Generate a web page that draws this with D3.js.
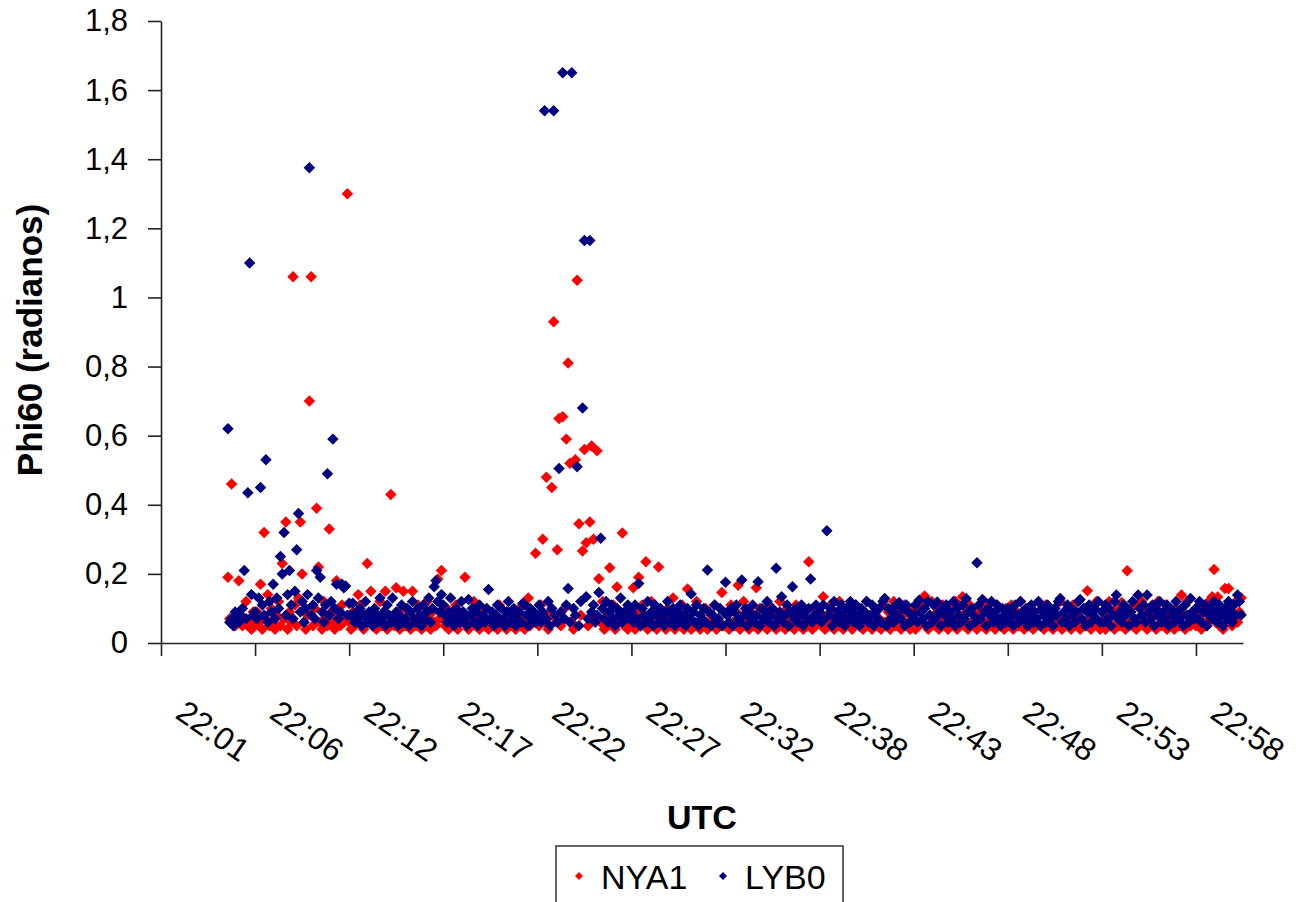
<!DOCTYPE html>
<html>
<head>
<meta charset="utf-8">
<script src="https://cdn.jsdelivr.net/npm/d3@7"></script>
<style>
  body { margin: 0; background: #fff; }
  text { font-family: "Liberation Sans", Arial, sans-serif; fill: #000; }
</style>
</head>
<body>
<div id="chart"></div>
<script>
// SCATTER (Phi60 vs UTC)

// Data

var xLabels = ["22:01", "22:06", "22:12", "22:17", "22:22", "22:27",
               "22:32", "22:38", "22:43", "22:48", "22:53", "22:58"];
var yTicks = [0, 0.2, 0.4, 0.6, 0.8, 1, 1.2, 1.4, 1.6, 1.8];
var samplesPerLabel = 52;      // samples between two time labels
var axisSamples = 598;         // samples covered by the axis
var firstSample = 37;          // first sample with a value

var nya1 = [
  // 22:01
  0.19, 0.07, 0.46, 0.06, 0.05, 0.08, 0.18, 0.06, 0.05, 0.07, 0.12, 0.05, 0.06, 0.04, 0.09,
  // 22:06
  0.05, 0.09, 0.06, 0.17, 0.04, 0.32, 0.07, 0.14, 0.05, 0.10, 0.06, 0.04, 0.08,
  0.12, 0.05, 0.23, 0.07, 0.35, 0.04, 0.09, 0.06, 1.06, 0.11, 0.05, 0.13, 0.35,
  0.20, 0.06, 0.04, 0.08, 0.70, 1.06, 0.05, 0.10, 0.39, 0.22, 0.06, 0.04, 0.12,
  0.07, 0.05, 0.33, 0.09, 0.06, 0.04, 0.18, 0.08, 0.05, 0.11, 0.06, 0.07, 1.30,
  // 22:12
  0.06, 0.04, 0.09, 0.05, 0.07, 0.14, 0.11, 0.05, 0.04, 0.08, 0.23, 0.06, 0.15,
  0.05, 0.09, 0.04, 0.07, 0.12, 0.05, 0.06, 0.15, 0.04, 0.08, 0.43, 0.06, 0.05,
  0.16, 0.07, 0.04, 0.10, 0.15, 0.05, 0.06, 0.09, 0.04, 0.15, 0.07, 0.05, 0.11,
  0.06, 0.04, 0.08, 0.05, 0.12, 0.07, 0.04, 0.09, 0.06, 0.05, 0.185, 0.07, 0.21,
  // 22:17
  0.07, 0.05, 0.10, 0.04, 0.06, 0.08, 0.05, 0.11, 0.04, 0.07, 0.06, 0.09, 0.19,
  0.05, 0.04, 0.08, 0.06, 0.12, 0.05, 0.07, 0.04, 0.09, 0.06, 0.05, 0.10, 0.04,
  0.07, 0.06, 0.05, 0.08, 0.04, 0.11, 0.06, 0.05, 0.07, 0.04, 0.09, 0.06, 0.05,
  0.08, 0.04, 0.06, 0.10, 0.05, 0.07, 0.04, 0.06, 0.13, 0.05, 0.09, 0.07, 0.26,
  // 22:22
  0.08, 0.05, 0.11, 0.30, 0.06, 0.48, 0.04, 0.09, 0.45, 0.93, 0.07, 0.27, 0.65,
  0.05, 0.655, 0.10, 0.59, 0.81, 0.52, 0.06, 0.04, 0.53, 1.05, 0.345, 0.08, 0.266,
  0.56, 0.29, 0.05, 0.35, 0.57, 0.30, 0.07, 0.556, 0.186, 0.06, 0.12, 0.04, 0.09,
  0.05, 0.218, 0.07, 0.11, 0.04, 0.162, 0.06, 0.09, 0.318, 0.05, 0.08, 0.04, 0.07,
  // 22:27
  0.06, 0.16, 0.04, 0.09, 0.19, 0.05, 0.11, 0.07, 0.235, 0.04, 0.06, 0.12, 0.05,
  0.08, 0.04, 0.22, 0.06, 0.09, 0.05, 0.04, 0.10, 0.07, 0.05, 0.13, 0.04, 0.06,
  0.08, 0.05, 0.11, 0.04, 0.07, 0.156, 0.06, 0.04, 0.09, 0.05, 0.12, 0.06, 0.04,
  0.07, 0.05, 0.10, 0.04, 0.06, 0.08, 0.05, 0.11, 0.04, 0.07, 0.06, 0.146, 0.05,
  // 22:32
  0.05, 0.08, 0.04, 0.11, 0.06, 0.05, 0.09, 0.167, 0.04, 0.07, 0.12, 0.05, 0.06,
  0.04, 0.09, 0.07, 0.05, 0.16, 0.04, 0.10, 0.06, 0.05, 0.08, 0.04, 0.11, 0.07,
  0.05, 0.09, 0.04, 0.06, 0.12, 0.05, 0.07, 0.04, 0.10, 0.06, 0.05, 0.08, 0.04,
  0.11, 0.06, 0.05, 0.09, 0.04, 0.07, 0.05, 0.235, 0.06, 0.04, 0.10, 0.05, 0.08,
  // 22:38
  0.07, 0.05, 0.134, 0.04, 0.08, 0.06, 0.11, 0.05, 0.04, 0.09, 0.06, 0.12, 0.05,
  0.04, 0.08, 0.06, 0.10, 0.05, 0.04, 0.07, 0.11, 0.06, 0.05, 0.09, 0.04, 0.07,
  0.12, 0.05, 0.06, 0.04, 0.08, 0.10, 0.05, 0.07, 0.04, 0.11, 0.06, 0.05, 0.09,
  0.04, 0.07, 0.12, 0.05, 0.06, 0.09, 0.04, 0.08, 0.11, 0.05, 0.06, 0.04, 0.10,
  // 22:43
  0.06, 0.04, 0.09, 0.05, 0.11, 0.07, 0.136, 0.05, 0.04, 0.08, 0.12, 0.06, 0.05,
  0.09, 0.04, 0.07, 0.11, 0.05, 0.06, 0.04, 0.10, 0.08, 0.05, 0.12, 0.04, 0.07,
  0.06, 0.134, 0.05, 0.09, 0.04, 0.11, 0.06, 0.05, 0.08, 0.04, 0.10, 0.07, 0.05,
  0.12, 0.04, 0.06, 0.09, 0.05, 0.08, 0.04, 0.11, 0.06, 0.05, 0.07, 0.04, 0.10,
  // 22:48
  0.05, 0.08, 0.11, 0.04, 0.06, 0.09, 0.05, 0.12, 0.07, 0.04, 0.06, 0.10, 0.05,
  0.08, 0.04, 0.07, 0.06, 0.117, 0.05, 0.09, 0.04, 0.11, 0.06, 0.05, 0.08, 0.04,
  0.10, 0.06, 0.05, 0.12, 0.04, 0.07, 0.09, 0.05, 0.06, 0.04, 0.11, 0.07, 0.05,
  0.08, 0.04, 0.06, 0.10, 0.05, 0.151, 0.07, 0.04, 0.09, 0.06, 0.12, 0.05, 0.04,
  // 22:53
  0.06, 0.09, 0.04, 0.07, 0.12, 0.05, 0.08, 0.04, 0.10, 0.06, 0.05, 0.117, 0.07,
  0.04, 0.209, 0.06, 0.09, 0.05, 0.11, 0.04, 0.07, 0.06, 0.12, 0.05, 0.08, 0.04,
  0.10, 0.06, 0.05, 0.09, 0.04, 0.12, 0.07, 0.05, 0.06, 0.11, 0.04, 0.08, 0.05,
  0.07, 0.04, 0.10, 0.06, 0.05, 0.139, 0.08, 0.04, 0.12, 0.06, 0.05, 0.09, 0.07,
  // 22:58
  0.05, 0.08, 0.11, 0.04, 0.06, 0.09, 0.05, 0.12, 0.07, 0.134, 0.213, 0.06, 0.133,
  0.05, 0.09, 0.04, 0.158, 0.07, 0.158, 0.10, 0.05, 0.08, 0.12, 0.06, 0.09, 0.13
];

var lyb0 = [
  // 22:01
  0.62, 0.06, 0.07, 0.05, 0.09, 0.07, 0.06, 0.08, 0.10, 0.21, 0.07, 0.435, 1.10, 0.14, 0.08,
  // 22:06
  0.09, 0.07, 0.13, 0.45, 0.11, 0.08, 0.53, 0.06, 0.12, 0.09, 0.17, 0.07, 0.13,
  0.10, 0.25, 0.20, 0.32, 0.08, 0.14, 0.21, 0.11, 0.07, 0.15, 0.27, 0.375, 0.09,
  0.12, 0.06, 0.10, 0.14, 1.375, 0.08, 0.11, 0.07, 0.21, 0.13, 0.19, 0.09, 0.06,
  0.11, 0.49, 0.08, 0.12, 0.59, 0.10, 0.17, 0.07, 0.09, 0.17, 0.16, 0.165, 0.08,
  // 22:12
  0.115, 0.08, 0.115, 0.06, 0.09, 0.07, 0.10, 0.05, 0.08, 0.12, 0.06, 0.09, 0.07,
  0.05, 0.10, 0.08, 0.06, 0.13, 0.07, 0.09, 0.05, 0.11, 0.08, 0.06, 0.13, 0.07,
  0.09, 0.05, 0.08, 0.11, 0.06, 0.07, 0.10, 0.05, 0.09, 0.12, 0.07, 0.06, 0.10,
  0.08, 0.05, 0.11, 0.07, 0.09, 0.13, 0.06, 0.10, 0.163, 0.18, 0.12, 0.09, 0.14,
  // 22:17
  0.11, 0.08, 0.06, 0.09, 0.13, 0.07, 0.05, 0.10, 0.08, 0.06, 0.12, 0.09, 0.07,
  0.05, 0.126, 0.08, 0.10, 0.06, 0.09, 0.05, 0.11, 0.07, 0.08, 0.06, 0.10, 0.155,
  0.07, 0.09, 0.05, 0.08, 0.11, 0.06, 0.10, 0.07, 0.05, 0.09, 0.12, 0.06, 0.08,
  0.10, 0.05, 0.07, 0.09, 0.06, 0.115, 0.11, 0.08, 0.05, 0.10, 0.07, 0.09, 0.06,
  // 22:22
  0.08, 0.11, 0.06, 0.09, 1.54, 0.07, 0.12, 0.05, 0.10, 1.54, 0.08, 0.06, 0.505,
  0.09, 1.65, 0.07, 0.11, 0.158, 0.06, 1.65, 0.10, 0.08, 0.51, 0.05, 0.12, 0.68,
  1.165, 0.134, 0.07, 1.165, 0.09, 0.11, 0.06, 0.08, 0.146, 0.303, 0.10, 0.07, 0.12,
  0.06, 0.09, 0.11, 0.07, 0.05, 0.10, 0.08, 0.13, 0.06, 0.09, 0.07, 0.11, 0.08,
  // 22:27
  0.09, 0.06, 0.11, 0.07, 0.172, 0.05, 0.10, 0.08, 0.06, 0.12, 0.07, 0.09, 0.05,
  0.11, 0.08, 0.06, 0.10, 0.07, 0.05, 0.09, 0.12, 0.06, 0.08, 0.10, 0.05, 0.07,
  0.09, 0.11, 0.06, 0.08, 0.05, 0.10, 0.07, 0.142, 0.09, 0.06, 0.11, 0.05, 0.08,
  0.07, 0.10, 0.06, 0.211, 0.09, 0.05, 0.08, 0.11, 0.06, 0.07, 0.10, 0.05, 0.09,
  // 22:32
  0.176, 0.08, 0.06, 0.10, 0.05, 0.09, 0.11, 0.07, 0.06, 0.182, 0.08, 0.10, 0.05,
  0.09, 0.07, 0.11, 0.06, 0.08, 0.177, 0.05, 0.10, 0.07, 0.09, 0.12, 0.06, 0.08,
  0.10, 0.05, 0.216, 0.07, 0.09, 0.134, 0.06, 0.08, 0.11, 0.05, 0.09, 0.163, 0.07,
  0.10, 0.06, 0.08, 0.11, 0.05, 0.09, 0.07, 0.10, 0.185, 0.06, 0.08, 0.11, 0.07,
  // 22:38
  0.09, 0.06, 0.11, 0.07, 0.325, 0.08, 0.10, 0.05, 0.12, 0.07, 0.09, 0.06, 0.11,
  0.08, 0.05, 0.10, 0.07, 0.12, 0.09, 0.06, 0.11, 0.08, 0.05, 0.10, 0.07, 0.09,
  0.12, 0.06, 0.08, 0.11, 0.05, 0.09, 0.07, 0.10, 0.06, 0.12, 0.129, 0.05, 0.10,
  0.07, 0.09, 0.06, 0.11, 0.08, 0.117, 0.07, 0.10, 0.05, 0.11, 0.09, 0.06, 0.08,
  // 22:43
  0.08, 0.11, 0.06, 0.124, 0.09, 0.07, 0.10, 0.05, 0.12, 0.08, 0.06, 0.11, 0.07,
  0.119, 0.09, 0.05, 0.10, 0.08, 0.11, 0.06, 0.09, 0.07, 0.12, 0.05, 0.10, 0.08,
  0.06, 0.11, 0.07, 0.129, 0.09, 0.05, 0.10, 0.08, 0.06, 0.232, 0.11, 0.07, 0.126,
  0.09, 0.05, 0.10, 0.08, 0.12, 0.06, 0.09, 0.11, 0.07, 0.05, 0.10, 0.08, 0.06,
  // 22:48
  0.10, 0.07, 0.09, 0.05, 0.11, 0.08, 0.06, 0.12, 0.09, 0.07, 0.10, 0.05, 0.08,
  0.11, 0.06, 0.09, 0.07, 0.12, 0.05, 0.10, 0.08, 0.06, 0.11, 0.09, 0.07, 0.05,
  0.10, 0.08, 0.12, 0.129, 0.06, 0.09, 0.07, 0.11, 0.05, 0.10, 0.08, 0.06, 0.09,
  0.12, 0.126, 0.07, 0.10, 0.05, 0.09, 0.11, 0.06, 0.08, 0.10, 0.07, 0.12, 0.06,
  // 22:53
  0.09, 0.06, 0.11, 0.07, 0.10, 0.05, 0.08, 0.12, 0.139, 0.07, 0.09, 0.06, 0.11,
  0.08, 0.10, 0.05, 0.09, 0.12, 0.07, 0.06, 0.139, 0.10, 0.08, 0.11, 0.06, 0.139,
  0.09, 0.07, 0.11, 0.05, 0.10, 0.08, 0.12, 0.06, 0.09, 0.07, 0.11, 0.05, 0.10,
  0.08, 0.06, 0.12, 0.09, 0.07, 0.10, 0.05, 0.11, 0.08, 0.06, 0.129, 0.09, 0.07,
  // 22:58
  0.10, 0.07, 0.12, 0.06, 0.09, 0.11, 0.05, 0.08, 0.10, 0.07, 0.12, 0.09, 0.06,
  0.11, 0.08, 0.05, 0.10, 0.07, 0.12, 0.09, 0.06, 0.11, 0.08, 0.139, 0.12, 0.081
];

// Chart variables

var svgWidth = 1300, svgHeight = 902;
var margin = {top: 21, right: 57, bottom: 259, left: 161};
var width = svgWidth - margin.left - margin.right;      // 1082
var height = svgHeight - margin.top - margin.bottom;    // 622

var svg = d3.select("#chart")
    .append("svg")
    .attr("width", svgWidth)
    .attr("height", svgHeight);

svg.append("rect")
    .attr("width", svgWidth)
    .attr("height", svgHeight)
    .attr("fill", "#fff");

var chart = svg.append("g")
    .attr("transform", "translate(" + margin.left + "," + margin.top + ")");

// Scales

var xScale = d3.scaleLinear()
    .domain([0, axisSamples])
    .range([0, width]);

var yScale = d3.scaleLinear()
    .domain([0, 1.8])
    .range([height, 0]);

var labelTicks = xLabels.map(function(d, i) { return i * samplesPerLabel; });

function commaFormat(v) {
    return String(+v.toFixed(1)).replace(".", ",");
}

// Points (NYA1 first, LYB0 drawn on top)

var diamond = d3.symbol().type(d3.symbolSquare).size(66);

function drawSeries(values, colour) {
    chart.append("g")
        .selectAll("path")
        .data(values)
        .enter()
        .append("path")
        .attr("d", diamond)
        .attr("transform", function(d, i) {
            return "translate(" + xScale(firstSample + i) + "," + yScale(d) + ") rotate(45)";
        })
        .attr("fill", colour);
}

drawSeries(nya1, "#ff0000");
drawSeries(lyb0, "#000080");

// Axes

var xAxis = d3.axisBottom(xScale)
    .tickValues(labelTicks)
    .tickSize(13)
    .tickSizeOuter(0)
    .tickFormat("");

var yAxis = d3.axisLeft(yScale)
    .tickValues(yTicks)
    .tickSize(13)
    .tickSizeOuter(0)
    .tickPadding(20)
    .tickFormat(commaFormat);

var gx = chart.append("g")
    .attr("transform", "translate(0," + height + ")")
    .call(xAxis);

var gy = chart.append("g")
    .call(yAxis);

[gx, gy].forEach(function(g) {
    g.selectAll("path, line").attr("stroke", "#222").attr("stroke-width", 1.6);
});

gy.selectAll("text")
    .style("font-size", "31px")
    .style("font-family", "'Liberation Sans', Arial, sans-serif")
    .attr("fill", "#000");

// Rotated time labels, one per interval

chart.append("g")
    .selectAll("text")
    .data(xLabels)
    .enter()
    .append("text")
    .attr("transform", function(d, i) {
        return "translate(" + (xScale(labelTicks[i]) + 52) + "," + (height + 88) + ") rotate(35)";
    })
    .attr("text-anchor", "middle")
    .attr("dominant-baseline", "central")
    .style("font-size", "32px")
    .text(function(d) { return d; });

// Axis titles

svg.append("text")
    .attr("x", 702)
    .attr("y", 829)
    .attr("text-anchor", "middle")
    .style("font-size", "34px")
    .style("font-weight", "bold")
    .text("UTC");

svg.append("text")
    .attr("transform", "translate(42,340) rotate(-90)")
    .attr("text-anchor", "middle")
    .style("font-size", "35px")
    .style("font-weight", "bold")
    .text("Phi60 (radianos)");

// Legend

var legend = svg.append("g").attr("transform", "translate(556,846)");

legend.append("rect")
    .attr("width", 287)
    .attr("height", 80)
    .attr("fill", "#fff")
    .attr("stroke", "#333")
    .attr("stroke-width", 1.5);

var legendItems = [
    {name: "NYA1", colour: "#ff0000", x: 23},
    {name: "LYB0", colour: "#000080", x: 167}
];

var smallDiamond = d3.symbol().type(d3.symbolSquare).size(32);

legendItems.forEach(function(item) {
    legend.append("path")
        .attr("d", smallDiamond)
        .attr("transform", "translate(" + item.x + ",30) rotate(45)")
        .attr("fill", item.colour);
    legend.append("text")
        .attr("x", item.x + 22)
        .attr("y", 43)
        .style("font-size", "34px")
        .text(item.name);
});
</script>
</body>
</html>
